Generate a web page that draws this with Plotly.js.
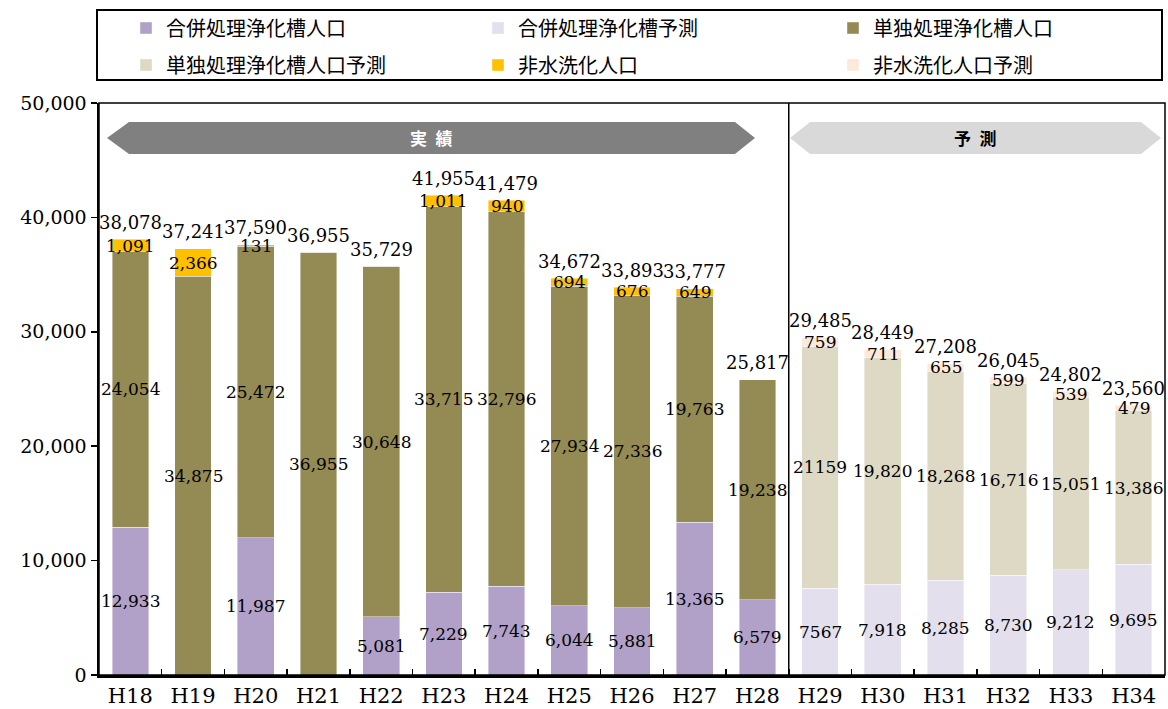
<!DOCTYPE html>
<html><head><meta charset="utf-8">
<script src="https://cdn.plot.ly/plotly-3.0.1.min.js"></script>
<style>html,body{margin:0;padding:0;background:#fff}#chart{width:1168px;height:709px}</style>
</head><body><div id="chart"></div>
<script>
// ---- data ----
const categories = ['H18','H19','H20','H21','H22','H23','H24','H25','H26','H27','H28','H29','H30','H31','H32','H33','H34'];
const gappeiActual     = [12933, 0, 11987, 0, 5081, 7229, 7743, 6044, 5881, 13365, 6579, null, null, null, null, null, null];
const gappeiForecast   = [null, null, null, null, null, null, null, null, null, null, null, 7567, 7918, 8285, 8730, 9212, 9695];
const tandokuActual    = [24054, 34875, 25472, 36955, 30648, 33715, 32796, 27934, 27336, 19763, 19238, null, null, null, null, null, null];
const tandokuForecast  = [null, null, null, null, null, null, null, null, null, null, null, 21159, 19820, 18268, 16716, 15051, 13386];
const hisuisenActual   = [1091, 2366, 131, 0, 0, 1011, 940, 694, 676, 649, 0, null, null, null, null, null, null];
const hisuisenForecast = [null, null, null, null, null, null, null, null, null, null, null, 759, 711, 655, 599, 539, 479];
const totals = [38078, 37241, 37590, 36955, 35729, 41955, 41479, 34672, 33893, 33777, 25817, 29485, 28449, 27208, 26045, 24802, 23560];
const yTickVals = [0, 10000, 20000, 30000, 40000, 50000];
const ungroupedLabelCats = ['H29']; // segment labels printed without separator in the source
const periodActual = '実\u2002績';
const periodForecast = '予\u2002測';

// ---- chart ----
const serif = 'DejaVu Serif, Liberation Serif, serif';
const gothic = 'Noto Sans CJK JP, Noto Sans, sans-serif';

function bar(name, values, color, legend) {
  return {type: 'bar', name: name, x: categories, y: values, legend: legend,
    marker: {color: color, line: {width: 0.6, color: 'rgba(255,255,255,0.7)'}}, hoverinfo: 'skip'};
}
const traces = [
  bar('合併処理浄化槽人口', gappeiActual, '#b1a0c7', 'legend'),
  bar('合併処理浄化槽予測', gappeiForecast, '#e4dfec', 'legend2'),
  bar('単独処理浄化槽人口', tandokuActual, '#948a54', 'legend3'),
  bar('単独処理浄化槽人口予測', tandokuForecast, '#ddd9c4', 'legend4'),
  bar('非水洗化人口', hisuisenActual, '#ffc000', 'legend5'),
  bar('非水洗化人口予測', hisuisenForecast, '#fde9d9', 'legend6')
];

const annotations = [];
const layers = [[gappeiActual, gappeiForecast], [tandokuActual, tandokuForecast], [hisuisenActual, hisuisenForecast]];
categories.forEach(function (cat, i) {
  let base = 0;
  const grouped = ungroupedLabelCats.indexOf(cat) < 0;
  layers.forEach(function (pair) {
    const v = pair[0][i] != null ? pair[0][i] : pair[1][i];
    if (v && v > 0) {
      annotations.push({x: cat, y: base + v / 2, xref: 'x', yref: 'y', showarrow: false,
        text: grouped ? v.toLocaleString('en-US') : String(v),
        font: {family: serif, size: 17, color: '#000'}, xanchor: 'center', yanchor: 'middle'});
      base += v;
    }
  });
  annotations.push({x: cat, y: totals[i], xref: 'x', yref: 'y', showarrow: false,
    text: totals[i].toLocaleString('en-US'), yshift: 17,
    font: {family: serif, size: 18, color: '#000'}, xanchor: 'center', yanchor: 'middle'});
});

// banners
const PX = function (px) { return (px - 99) / 1066; };
const PY = function (py) { return (675 - py) / 572; };
function hexPath(x0, x1, x2, x3, yt, ym, yb) {
  return 'M' + PX(x0) + ',' + PY(ym) + ' L' + PX(x1) + ',' + PY(yt) + ' L' + PX(x2) + ',' + PY(yt) +
    ' L' + PX(x3) + ',' + PY(ym) + ' L' + PX(x2) + ',' + PY(yb) + ' L' + PX(x1) + ',' + PY(yb) + ' Z';
}
annotations.push({xref: 'paper', yref: 'paper', x: PX(431), y: PY(138), xanchor: 'center', yanchor: 'middle',
  showarrow: false, text: '<b>' + periodActual + '</b>', font: {family: gothic, size: 17, color: '#ffffff'}});
annotations.push({xref: 'paper', yref: 'paper', x: PX(975), y: PY(138), xanchor: 'center', yanchor: 'middle',
  showarrow: false, text: '<b>' + periodForecast + '</b>', font: {family: gothic, size: 17, color: '#000000'}});

const shapes = [
  {type: 'path', xref: 'paper', yref: 'paper', path: hexPath(107, 129, 735, 755, 122, 138, 154),
    fillcolor: '#808080', line: {width: 0}, layer: 'below'},
  {type: 'path', xref: 'paper', yref: 'paper', path: hexPath(790, 810, 1141, 1161, 122, 138, 154),
    fillcolor: '#d9d9d9', line: {width: 0}, layer: 'below'},
  {type: 'line', xref: 'x', yref: 'paper', x0: 10.5, x1: 10.5, y0: 0, y1: 1, line: {color: '#000', width: 1.5}},
  {type: 'rect', xref: 'paper', yref: 'paper', x0: 0, x1: 1, y0: 0, y1: 1, line: {color: '#000', width: 1.5}},
  {type: 'rect', xref: 'paper', yref: 'paper', x0: PX(97), x1: PX(1162), y0: PY(80), y1: PY(10), line: {color: '#000', width: 2}}
];

function legendAt(px, py) {
  return {orientation: 'h', xanchor: 'left', yanchor: 'middle', x: PX(px), y: PY(py),
    borderwidth: 0, bgcolor: 'rgba(0,0,0,0)', font: {family: gothic, size: 20, color: '#000'}};
}

const layout = {
  width: 1168, height: 709,
  margin: {l: 99, r: 3, t: 103, b: 34, autoexpand: false},
  paper_bgcolor: '#fff', plot_bgcolor: '#fff',
  barmode: 'stack', bargap: 0.415,
  showlegend: true,
  legend: legendAt(126, 28),
  legend2: legendAt(478, 28),
  legend3: legendAt(833, 28),
  legend4: legendAt(126, 65),
  legend5: legendAt(478, 65),
  legend6: legendAt(833, 65),
  xaxis: {type: 'category', tickson: 'boundaries', ticks: 'inside', ticklen: 6, tickwidth: 1.5, tickcolor: '#000',
    showline: true, linewidth: 2.5, linecolor: '#000', showgrid: false, zeroline: false,
    tickfont: {family: serif, size: 21, color: '#000'}, range: [-0.5, 16.5]},
  yaxis: {range: [0, 50000], tickvals: yTickVals, tickformat: ',d', ticks: 'outside', ticklen: 6, tickwidth: 1.5,
    tickcolor: '#000', showline: true, linewidth: 2.5, linecolor: '#000', showgrid: false, zeroline: false,
    tickfont: {family: serif, size: 19, color: '#000'}},
  annotations: annotations,
  shapes: shapes
};

Plotly.newPlot('chart', traces, layout, {displayModeBar: false, staticPlot: true});
</script></body></html>
